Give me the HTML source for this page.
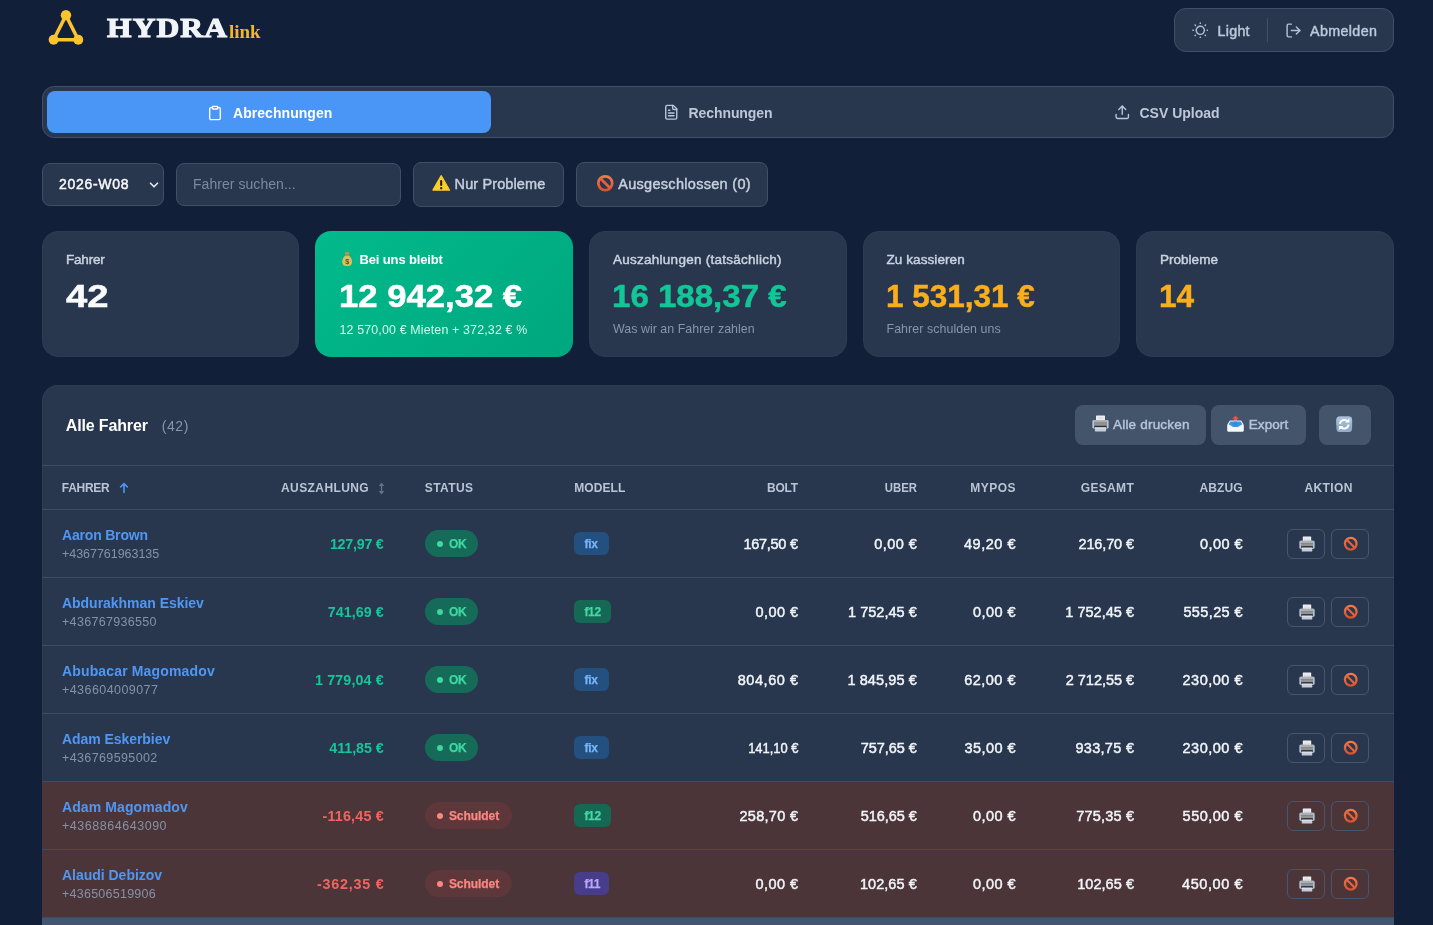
<!DOCTYPE html>
<html lang="de"><head><meta charset="utf-8"><title>HYDRAlink – Abrechnungen</title>
<style>
*{box-sizing:border-box}
html,body{margin:0;padding:0}
body{width:1433px;height:925px;overflow:hidden;position:relative;background:#121f39;
 font-family:"Liberation Sans","DejaVu Sans",sans-serif;color:#f1f5f9;-webkit-font-smoothing:antialiased}
.abs,.t,.ic{position:absolute}
.t{white-space:nowrap;line-height:1;display:block}
.box{position:absolute;background:#29374e;border:1px solid #3f4f69}
.b{font-weight:700}
.serif{font-family:"Liberation Serif","DejaVu Serif",serif}
.muted{color:#8795ab}
.lab{color:#c9d3e1}
.m5{-webkit-text-stroke:0.45px currentColor}
.xb{-webkit-text-stroke:0.5px currentColor}
.sb{font-weight:700;-webkit-text-stroke:0.25px currentColor}
</style></head><body>

<svg class="ic" style="left:44px;top:8px" width="44" height="42" viewBox="0 0 44 42"><path d="M21.95 7.4 L9.6 31.68 H34.27 Z" fill="none" stroke="#f9c42d" stroke-width="3.5" stroke-linejoin="round"/><circle cx="21.95" cy="7.16" r="5.2" fill="#f9c42d"/><circle cx="9.6" cy="31.68" r="4.95" fill="#f9c42d"/><circle cx="34.27" cy="31.68" r="4.95" fill="#f9c42d"/></svg>
<span id="hydra" class="t serif b" style="top:14px;left:106.5px;font-size:28px;color:#f1f5f9;-webkit-text-stroke:1.1px #f1f5f9;letter-spacing:1px;transform:scaleX(1.125);transform-origin:left center;">HYDRA</span>
<span id="link" class="t serif b" style="top:21.5px;left:229px;font-size:19px;color:#f4b62a;">link</span>
<div class="box" style="left:1174px;top:8px;width:220px;height:44px;border-radius:12px"></div>
<svg class="ic" style="left:1191.5px;top:21.7px" width="16.6" height="16.6" viewBox="0 0 24 24" fill="none" stroke="#b3c1d8" stroke-width="2.1" stroke-linecap="round" stroke-linejoin="round"><circle cx="12" cy="12" r="5.9"/><path d="M12 1.4v.6"/><path d="M12 22v.6"/><path d="m4.5 4.5 .4 .4"/><path d="m19.1 19.1 .4 .4"/><path d="M1.4 12h.6"/><path d="M22 12h.6"/><path d="m4.9 19.1-.4 .4"/><path d="m19.5 4.5-.4 .4"/></svg>
<span id="light" class="t m5" style="top:24px;left:1217.5px;letter-spacing:0.27px;font-size:14.3px;color:#bcc8dc;">Light</span>
<div class="abs" style="left:1267px;top:18px;width:1px;height:24px;background:#3f4e67"></div>
<svg class="ic" style="left:1284.5px;top:22px" width="17" height="17" viewBox="0 0 24 24" fill="none" stroke="#b3c1d8" stroke-width="2.0" stroke-linecap="round" stroke-linejoin="round"><path d="M9 21H5a2 2 0 0 1-2-2V5a2 2 0 0 1 2-2h4"/><polyline points="16 17 21 12 16 7"/><line x1="21" x2="9" y1="12" y2="12"/></svg>
<span id="abmelden" class="t m5" style="top:24px;left:1310px;letter-spacing:0.36px;font-size:14.3px;color:#bcc8dc;">Abmelden</span>
<div class="box" style="left:42px;top:86px;width:1352px;height:52px;border-radius:12px"></div>
<div class="abs" style="left:47px;top:91px;width:444px;height:42px;border-radius:8px;background:#4a96f7"></div>
<svg class="ic" style="left:207px;top:104.5px" width="16" height="16" viewBox="0 0 24 24" fill="none" stroke="#ffffff" stroke-width="2.1" stroke-linecap="round" stroke-linejoin="round"><rect width="8" height="4" x="8" y="2" rx="1" ry="1"/><path d="M16 4h2a2 2 0 0 1 2 2v14a2 2 0 0 1-2 2H6a2 2 0 0 1-2-2V6a2 2 0 0 1 2-2h2"/></svg>
<span id="tab1" class="t b" style="top:106px;left:233px;letter-spacing:0.05px;font-size:14px;color:#fff;">Abrechnungen</span>
<svg class="ic" style="left:663px;top:104px" width="16.5" height="16.5" viewBox="0 0 24 24" fill="none" stroke="#bcc8d8" stroke-width="2" stroke-linecap="round" stroke-linejoin="round"><path d="M15 2H6a2 2 0 0 0-2 2v16a2 2 0 0 0 2 2h12a2 2 0 0 0 2-2V7Z"/><path d="M14 2v4a2 2 0 0 0 2 2h4"/><path d="M10 9H8"/><path d="M16 13H8"/><path d="M16 17H8"/></svg>
<span id="tab2" class="t b" style="top:106px;left:688.5px;letter-spacing:-0.08px;font-size:14px;color:#bcc8d8;">Rechnungen</span>
<svg class="ic" style="left:1113.5px;top:104px" width="16.5" height="16.5" viewBox="0 0 24 24" fill="none" stroke="#bcc8d8" stroke-width="2" stroke-linecap="round" stroke-linejoin="round"><path d="M21 15v4a2 2 0 0 1-2 2H5a2 2 0 0 1-2-2v-4"/><polyline points="17 8 12 3 7 8"/><line x1="12" x2="12" y1="3" y2="15"/></svg>
<span id="tab3" class="t b" style="top:106px;left:1139.5px;font-size:14px;color:#bcc8d8;">CSV Upload</span>
<div class="box" style="left:42px;top:163.25px;width:122px;height:42.5px;border-radius:8px"></div>
<span id="week" class="t m5" style="top:177px;left:59px;letter-spacing:0.71px;font-size:14px;color:#f8fafc;">2026-W08</span>
<svg class="ic" style="left:148px;top:179px" width="12" height="12" viewBox="0 0 12 12" fill="none" stroke="#e2e8f0" stroke-width="1.6" stroke-linecap="round" stroke-linejoin="round"><path d="M2.5 4.2 L6 7.8 L9.5 4.2"/></svg>
<div class="box" style="left:176px;top:163.25px;width:225px;height:42.5px;border-radius:8px"></div>
<span id="search" class="t " style="top:177px;left:193px;letter-spacing:0.05px;font-size:14px;color:#7c899e;">Fahrer suchen...</span>
<div class="box" style="left:413px;top:162px;width:151px;height:45px;border-radius:8px"></div>
<svg class="ic" style="left:431.7px;top:173.8px" width="18.4" height="18.4" viewBox="0 0 32 32">
<path d="M16 3.2 L30.2 28 H1.8 Z" fill="#fbd02c" stroke="#fbd02c" stroke-width="2.6" stroke-linejoin="round"/>
<path d="M16 3.2 L30.2 28 H1.8 Z" fill="none" stroke="#e9b21f" stroke-width="0.8" stroke-linejoin="round" opacity=".55"/>
<rect x="14.2" y="10.5" width="3.6" height="10.5" rx="1.7" fill="#1f1f1f"/>
<circle cx="16" cy="24.8" r="2" fill="#1f1f1f"/>
</svg>
<span id="nurp" class="t m5" style="top:177px;left:454.6px;letter-spacing:0.11px;font-size:14.5px;color:#c5cfde;">Nur Probleme</span>
<div class="box" style="left:576px;top:162px;width:192px;height:45px;border-radius:8px"></div>
<svg class="ic" style="left:596px;top:173.8px" width="18.5" height="18.5" viewBox="0 0 32 32">
<defs><linearGradient id="gb" x1="0" y1="0" x2="0" y2="1"><stop offset="0" stop-color="#ee7a4d"/><stop offset="1" stop-color="#d9532f"/></linearGradient></defs>
<circle cx="16" cy="16" r="12" fill="none" stroke="url(#gb)" stroke-width="4.8"/>
<line x1="7.8" y1="7.8" x2="24.2" y2="24.2" stroke="#e2633b" stroke-width="4.8"/>
</svg>
<span id="ausg" class="t m5" style="top:177px;left:618.2px;letter-spacing:0.3px;font-size:14.5px;color:#c5cfde;">Ausgeschlossen (0)</span>
<div class="abs" style="left:42px;top:231px;width:257px;height:125.5px;border-radius:16px;background:#29374e;border:1px solid #2d3b53"></div>
<div class="abs" style="left:315px;top:231px;width:258px;height:125.5px;border-radius:16px;background:linear-gradient(135deg,#02ba8c 0%,#00a77f 100%)"></div>
<div class="abs" style="left:589px;top:231px;width:257.5px;height:125.5px;border-radius:16px;background:#29374e;border:1px solid #2d3b53"></div>
<div class="abs" style="left:862.5px;top:231px;width:257.5px;height:125.5px;border-radius:16px;background:#29374e;border:1px solid #2d3b53"></div>
<div class="abs" style="left:1136px;top:231px;width:258px;height:125.5px;border-radius:16px;background:#29374e;border:1px solid #2d3b53"></div>
<span id="c1l" class="t m5 lab" style="top:253px;left:66px;letter-spacing:-0.19px;font-size:13.5px;">Fahrer</span>
<span id="c1v" class="t b xb" style="top:280.5px;transform:scaleX(1.2148);transform-origin:left center;left:65.5px;font-size:31.5px;color:#f8fafc;">42</span>
<svg class="ic" style="left:341.6px;top:252px" width="10.29" height="14.4" viewBox="0 0 20 28">
<path d="M5.2 0.6 H14.8 L12.9 5.6 H7.1 Z" fill="#c9964a"/>
<path d="M7 6.2 H13 C17.6 9.6 19.8 14.6 19.6 19.4 C19.4 25 15.8 27.6 10 27.6 C4.2 27.6 0.6 25 0.4 19.4 C0.2 14.6 2.4 9.6 7 6.2 Z" fill="#d9bf5e"/>
<rect x="6.4" y="5" width="7.2" height="2" rx="1" fill="#a87a35"/>
<text x="10" y="23.2" font-family="Liberation Sans, sans-serif" font-weight="700" font-size="14" text-anchor="middle" fill="#5d5327">$</text>
</svg>
<span id="c2l" class="t b" style="top:253px;left:359.5px;letter-spacing:-0.14px;font-size:13px;color:#fff;">Bei uns bleibt</span>
<span id="c2v" class="t b xb" style="top:280.5px;transform:scaleX(1.1003);transform-origin:left center;left:338.5px;font-size:31.5px;color:#fff;">12 942,32 €</span>
<span id="c2s" class="t " style="top:323.5px;left:339.5px;letter-spacing:0.16px;font-size:12.4px;color:#d2f9ea;">12 570,00 € Mieten + 372,32 € %</span>
<span id="c3l" class="t m5 lab" style="top:253px;left:613px;letter-spacing:0.26px;font-size:13.5px;">Auszahlungen (tatsächlich)</span>
<span id="c3v" class="t b xb" style="top:280.5px;transform:scaleX(1.0495);transform-origin:left center;left:612px;font-size:31.5px;color:#13c698;">16 188,37 €</span>
<span id="c3s" class="t muted" style="top:323px;left:613px;letter-spacing:0.04px;font-size:12.4px;">Was wir an Fahrer zahlen</span>
<span id="c4l" class="t m5 lab" style="top:253px;left:886.5px;letter-spacing:0.08px;font-size:13.5px;">Zu kassieren</span>
<span id="c4v" class="t b xb" style="top:280.5px;transform:scaleX(0.9994);transform-origin:left center;left:885.5px;font-size:31.5px;color:#f9ae1d;">1 531,31 €</span>
<span id="c4s" class="t muted" style="top:323px;left:886.5px;letter-spacing:0.07px;font-size:12.4px;">Fahrer schulden uns</span>
<span id="c5l" class="t m5 lab" style="top:253px;left:1160px;letter-spacing:0.02px;font-size:13.5px;">Probleme</span>
<span id="c5v" class="t b xb" style="top:280.5px;transform:scaleX(1.0014);transform-origin:left center;left:1159px;font-size:31.5px;color:#f9ae1d;">14</span>
<div class="abs" style="left:42px;top:385px;width:1352px;height:560px;border-radius:16px 16px 0 0;background:#29374e;overflow:hidden;box-shadow:inset 0 0 0 1px #2d3b53">
<span id="alle" class="t b" style="top:32.5px;left:23.75px;letter-spacing:-0.14px;font-size:16px;color:#fff;">Alle Fahrer</span>
<span id="cnt" class="t " style="top:33.5px;left:119.75px;letter-spacing:0.56px;font-size:14px;color:#8795ab;">(42)</span>
<div class="abs" style="left:1033px;top:20px;width:131px;height:40px;border-radius:8px;background:#43546b"></div>
<svg class="ic" style="left:1049.5px;top:30.19999999999999px" width="17" height="17" viewBox="0 0 32 32">
<rect x="7.6" y="0.8" width="16.8" height="11.5" rx="1" fill="#f1f2f6"/>
<rect x="10" y="3.4" width="12" height="1.2" fill="#cfd3db"/><rect x="10" y="6.2" width="12" height="1.2" fill="#cfd3db"/>
<rect x="0.8" y="9.6" width="30.4" height="16" rx="2.6" fill="#bccde6"/>
<rect x="3.6" y="9.6" width="24.8" height="16" fill="#929397"/>
<rect x="3.6" y="9.6" width="24.8" height="4.6" fill="#aeafb3"/>
<rect x="3.6" y="14.2" width="24.8" height="1.2" fill="#7d7e82"/>
<rect x="4.4" y="20.2" width="23.2" height="3.6" fill="#2f3034"/>
<rect x="5.4" y="23.4" width="21.2" height="7.6" rx="0.8" fill="#c3ccda"/>
<rect x="5.4" y="23.4" width="21.2" height="2" fill="#e2e7ef"/>
</svg>
<span id="druck" class="t m5" style="top:32.5px;left:1071px;letter-spacing:0.2px;font-size:13.5px;color:#b6c3d8;">Alle drucken</span>
<div class="abs" style="left:1169.25px;top:20px;width:95px;height:40px;border-radius:8px;background:#43546b"></div>
<svg class="ic" style="left:1185.2px;top:29.80000000000001px" width="17" height="17" viewBox="0 0 32 32">
<path d="M16 0.8 L22.4 7.4 H18.8 V12.5 H13.2 V7.4 H9.6 Z" fill="#e5524a"/>
<path d="M5.4 10.5 H26.6 L31.2 17.5 V29.4 a1.6 1.6 0 0 1 -1.6 1.6 H2.4 a1.6 1.6 0 0 1 -1.6 -1.6 V17.5 Z" fill="#eef2f7"/>
<path d="M6.6 12.4 H25.4 L28.8 17.6 L20.4 22.6 H11.6 L3.2 17.6 Z" fill="#3b96e6"/>
<path d="M13.2 12.4 H18.8 V15 H22 L16 21 L10 15 H13.2 Z" fill="#2a7fd0" opacity=".55"/>
<path d="M0.8 19 L11 24.6 H21 L31.2 19 V29.4 a1.6 1.6 0 0 1 -1.6 1.6 H2.4 a1.6 1.6 0 0 1 -1.6 -1.6 Z" fill="#f6f8fb"/>
</svg>
<span id="export" class="t m5" style="top:32.5px;left:1206.75px;letter-spacing:0.08px;font-size:13.5px;color:#b6c3d8;">Export</span>
<div class="abs" style="left:1277.25px;top:20px;width:51.25px;height:40px;border-radius:8px;background:#43546b"></div>
<svg class="ic" style="left:1294px;top:30.5px" width="16.5" height="16.5" viewBox="0 0 32 32">
<rect x="0.8" y="0.8" width="30.4" height="30.4" rx="6.5" fill="#93aeca"/>
<rect x="0.8" y="0.8" width="30.4" height="16" rx="6.5" fill="#a9c0d8"/>
<rect x="0.8" y="10" width="30.4" height="8" fill="#9eb7d1"/>
<path d="M7.6 15.4 a8.6 8.6 0 0 1 14.6 -5.2" fill="none" stroke="#fff" stroke-width="3.8"/>
<path d="M26 4.6 v8.2 h-8.2 Z" fill="#fff"/>
<path d="M24.4 16.6 a8.6 8.6 0 0 1 -14.6 5.2" fill="none" stroke="#fff" stroke-width="3.8"/>
<path d="M6 27.4 v-8.2 h8.2 Z" fill="#fff"/>
</svg>
<div class="abs" style="left:0;top:80px;width:1352px;height:1px;background:#3e4d66"></div>
<div class="abs" style="left:0;top:124px;width:1352px;height:1px;background:#3e4d66"></div>
<span id="h_fahrer" class="t b" style="top:97px;left:19.75px;letter-spacing:-0.29px;font-size:12px;color:#b9c4d6;">FAHRER</span>
<svg class="ic" style="left:77px;top:97px" width="10" height="12" viewBox="0 0 10 12" fill="none" stroke="#4a96f7" stroke-width="1.6" stroke-linecap="round" stroke-linejoin="round"><path d="M5 10.5 V1.8 M1.6 5 L5 1.6 L8.4 5"/></svg>
<span id="h_ausz" class="t b" style="top:97px;left:239px;letter-spacing:0.41px;font-size:12px;color:#b9c4d6;">AUSZAHLUNG</span>
<svg class="ic" style="left:336px;top:97px" width="7" height="13" viewBox="0 0 7 13" fill="#62718a"><path d="M3.5 0.5 L6.3 4 H4.2 V9 H6.3 L3.5 12.5 L0.7 9 H2.8 V4 H0.7 Z"/></svg>
<span id="h_status" class="t b" style="top:97px;left:382.75px;letter-spacing:0.4px;font-size:12px;color:#b9c4d6;">STATUS</span>
<span id="h_modell" class="t b" style="top:97px;left:532.25px;letter-spacing:0.08px;font-size:12px;color:#b9c4d6;">MODELL</span>
<span id="h_bolt" class="t b" style="top:97px;right:596px;margin-right:0.25px;letter-spacing:-0.25px;font-size:12px;color:#b9c4d6;">BOLT</span>
<span id="h_uber" class="t b" style="top:97px;transform:scaleX(0.945);transform-origin:right center;right:477.25px;font-size:12px;color:#b9c4d6;">UBER</span>
<span id="h_mypos" class="t b" style="top:97px;right:378.5px;margin-right:-0.47px;letter-spacing:0.47px;font-size:12px;color:#b9c4d6;">MYPOS</span>
<span id="h_gesamt" class="t b" style="top:97px;right:260.25px;margin-right:-0.32px;letter-spacing:0.32px;font-size:12px;color:#b9c4d6;">GESAMT</span>
<span id="h_abzug" class="t b" style="top:97px;right:151.5px;margin-right:-0.11px;letter-spacing:0.11px;font-size:12px;color:#b9c4d6;">ABZUG</span>
<span id="h_aktion" class="t b" style="top:97px;right:41.5px;margin-right:-0.41px;letter-spacing:0.41px;font-size:12px;color:#b9c4d6;">AKTION</span>
<div class="abs" style="left:0;top:125px;width:1352px;height:68px;background:transparent;border-bottom:1px solid #3e4d66">
<span id="n0" class="t b" style="top:18px;left:20px;letter-spacing:-0.19px;font-size:14px;color:#4f97f3;">Aaron Brown</span>
<span id="p0" class="t " style="top:37.7px;left:20px;letter-spacing:-0.04px;font-size:12.5px;color:#8591a6;">+4367761963135</span>
<span id="a0" class="t b" style="top:27px;right:1010.25px;margin-right:0.26px;letter-spacing:-0.26px;font-size:14.3px;color:#18c499;">127,97 €</span>
<div class="abs" style="left:383px;top:20px;width:53px;height:27px;border-radius:14px;background:#166b58"></div>
<div class="abs" style="left:395px;top:30.6px;width:6px;height:6px;border-radius:3px;background:#3dd8a2"></div>
<span id="s0" class="t sb" style="top:27.7px;left:406.9px;letter-spacing:-0.3px;font-size:12px;color:#3dd8a2;">OK</span>
<div class="abs" style="left:532.25px;top:22px;width:35px;height:23px;border-radius:6px;background:#24507f"></div>
<span id="m0" class="t sb" style="top:27.7px;left:542.4px;letter-spacing:-0.26px;font-size:12px;color:#78b4fa;">fix</span>
<span id="bo0" class="t m5" style="top:27px;right:596px;margin-right:0.27px;letter-spacing:-0.27px;font-size:14.5px;color:#f1f5f9;">167,50 €</span>
<span id="ub0" class="t m5" style="top:27px;right:477.25px;margin-right:-0.44px;letter-spacing:0.44px;font-size:14.5px;color:#f1f5f9;">0,00 €</span>
<span id="my0" class="t m5" style="top:27px;right:378.5px;margin-right:-0.52px;letter-spacing:0.52px;font-size:14.5px;color:#f1f5f9;">49,20 €</span>
<span id="ge0" class="t m5" style="top:27px;right:260px;margin-right:0.13px;letter-spacing:-0.13px;font-size:14.5px;color:#f1f5f9;">216,70 €</span>
<span id="ab0" class="t m5" style="top:27px;right:151.5px;margin-right:-0.44px;letter-spacing:0.44px;font-size:14.5px;color:#f1f5f9;">0,00 €</span>
<div class="abs" style="left:1245px;top:18.75px;width:38px;height:30px;border-radius:6px;border:1px solid #46566f"></div>
<svg class="ic" style="left:1256.5px;top:25.7px" width="16" height="16" viewBox="0 0 32 32">
<rect x="7.6" y="0.8" width="16.8" height="11.5" rx="1" fill="#f1f2f6"/>
<rect x="10" y="3.4" width="12" height="1.2" fill="#cfd3db"/><rect x="10" y="6.2" width="12" height="1.2" fill="#cfd3db"/>
<rect x="0.8" y="9.6" width="30.4" height="16" rx="2.6" fill="#bccde6"/>
<rect x="3.6" y="9.6" width="24.8" height="16" fill="#929397"/>
<rect x="3.6" y="9.6" width="24.8" height="4.6" fill="#aeafb3"/>
<rect x="3.6" y="14.2" width="24.8" height="1.2" fill="#7d7e82"/>
<rect x="4.4" y="20.2" width="23.2" height="3.6" fill="#2f3034"/>
<rect x="5.4" y="23.4" width="21.2" height="7.6" rx="0.8" fill="#c3ccda"/>
<rect x="5.4" y="23.4" width="21.2" height="2" fill="#e2e7ef"/>
</svg>
<div class="abs" style="left:1289.25px;top:18.75px;width:38px;height:30px;border-radius:6px;border:1px solid #46566f"></div>
<svg class="ic" style="left:1300.7px;top:25.7px" width="15.5" height="15.5" viewBox="0 0 32 32">
<defs><linearGradient id="gb" x1="0" y1="0" x2="0" y2="1"><stop offset="0" stop-color="#ee7a4d"/><stop offset="1" stop-color="#d9532f"/></linearGradient></defs>
<circle cx="16" cy="16" r="12" fill="none" stroke="url(#gb)" stroke-width="4.8"/>
<line x1="7.8" y1="7.8" x2="24.2" y2="24.2" stroke="#e2633b" stroke-width="4.8"/>
</svg>
</div>
<div class="abs" style="left:0;top:193px;width:1352px;height:68px;background:transparent;border-bottom:1px solid #3e4d66">
<span id="n1" class="t b" style="top:18px;left:20px;letter-spacing:-0.03px;font-size:14px;color:#4f97f3;">Abdurakhman Eskiev</span>
<span id="p1" class="t " style="top:37.7px;left:20px;letter-spacing:0.32px;font-size:12.5px;color:#8591a6;">+436767936550</span>
<span id="a1" class="t b" style="top:27px;right:1010.25px;margin-right:-0.03px;letter-spacing:0.03px;font-size:14.3px;color:#18c499;">741,69 €</span>
<div class="abs" style="left:383px;top:20px;width:53px;height:27px;border-radius:14px;background:#166b58"></div>
<div class="abs" style="left:395px;top:30.6px;width:6px;height:6px;border-radius:3px;background:#3dd8a2"></div>
<span id="s1" class="t sb" style="top:27.7px;left:406.9px;letter-spacing:-0.3px;font-size:12px;color:#3dd8a2;">OK</span>
<div class="abs" style="left:532.25px;top:22px;width:37px;height:23px;border-radius:6px;background:#156954"></div>
<span id="m1" class="t sb" style="top:27.7px;left:542.4px;letter-spacing:-0.3px;font-size:12px;color:#45d8a5;">f12</span>
<span id="bo1" class="t m5" style="top:27px;right:596px;margin-right:-0.44px;letter-spacing:0.44px;font-size:14.5px;color:#f1f5f9;">0,00 €</span>
<span id="ub1" class="t m5" style="top:27px;right:477.25px;margin-right:-0.02px;letter-spacing:0.02px;font-size:14.5px;color:#f1f5f9;">1 752,45 €</span>
<span id="my1" class="t m5" style="top:27px;right:378.5px;margin-right:-0.44px;letter-spacing:0.44px;font-size:14.5px;color:#f1f5f9;">0,00 €</span>
<span id="ge1" class="t m5" style="top:27px;right:260px;margin-right:-0.02px;letter-spacing:0.02px;font-size:14.5px;color:#f1f5f9;">1 752,45 €</span>
<span id="ab1" class="t m5" style="top:27px;right:151.5px;margin-right:-0.38px;letter-spacing:0.38px;font-size:14.5px;color:#f1f5f9;">555,25 €</span>
<div class="abs" style="left:1245px;top:18.75px;width:38px;height:30px;border-radius:6px;border:1px solid #46566f"></div>
<svg class="ic" style="left:1256.5px;top:25.7px" width="16" height="16" viewBox="0 0 32 32">
<rect x="7.6" y="0.8" width="16.8" height="11.5" rx="1" fill="#f1f2f6"/>
<rect x="10" y="3.4" width="12" height="1.2" fill="#cfd3db"/><rect x="10" y="6.2" width="12" height="1.2" fill="#cfd3db"/>
<rect x="0.8" y="9.6" width="30.4" height="16" rx="2.6" fill="#bccde6"/>
<rect x="3.6" y="9.6" width="24.8" height="16" fill="#929397"/>
<rect x="3.6" y="9.6" width="24.8" height="4.6" fill="#aeafb3"/>
<rect x="3.6" y="14.2" width="24.8" height="1.2" fill="#7d7e82"/>
<rect x="4.4" y="20.2" width="23.2" height="3.6" fill="#2f3034"/>
<rect x="5.4" y="23.4" width="21.2" height="7.6" rx="0.8" fill="#c3ccda"/>
<rect x="5.4" y="23.4" width="21.2" height="2" fill="#e2e7ef"/>
</svg>
<div class="abs" style="left:1289.25px;top:18.75px;width:38px;height:30px;border-radius:6px;border:1px solid #46566f"></div>
<svg class="ic" style="left:1300.7px;top:25.7px" width="15.5" height="15.5" viewBox="0 0 32 32">
<defs><linearGradient id="gb" x1="0" y1="0" x2="0" y2="1"><stop offset="0" stop-color="#ee7a4d"/><stop offset="1" stop-color="#d9532f"/></linearGradient></defs>
<circle cx="16" cy="16" r="12" fill="none" stroke="url(#gb)" stroke-width="4.8"/>
<line x1="7.8" y1="7.8" x2="24.2" y2="24.2" stroke="#e2633b" stroke-width="4.8"/>
</svg>
</div>
<div class="abs" style="left:0;top:261px;width:1352px;height:68px;background:transparent;border-bottom:1px solid #3e4d66">
<span id="n2" class="t b" style="top:18px;left:20px;letter-spacing:0.15px;font-size:14px;color:#4f97f3;">Abubacar Magomadov</span>
<span id="p2" class="t " style="top:37.7px;left:20px;letter-spacing:0.43px;font-size:12.5px;color:#8591a6;">+436604009077</span>
<span id="a2" class="t b" style="top:27px;right:1010.25px;margin-right:-0.13px;letter-spacing:0.13px;font-size:14.3px;color:#18c499;">1 779,04 €</span>
<div class="abs" style="left:383px;top:20px;width:53px;height:27px;border-radius:14px;background:#166b58"></div>
<div class="abs" style="left:395px;top:30.6px;width:6px;height:6px;border-radius:3px;background:#3dd8a2"></div>
<span id="s2" class="t sb" style="top:27.7px;left:406.9px;letter-spacing:-0.3px;font-size:12px;color:#3dd8a2;">OK</span>
<div class="abs" style="left:532.25px;top:22px;width:35px;height:23px;border-radius:6px;background:#24507f"></div>
<span id="m2" class="t sb" style="top:27.7px;left:542.4px;letter-spacing:-0.26px;font-size:12px;color:#78b4fa;">fix</span>
<span id="bo2" class="t m5" style="top:27px;right:596px;margin-right:-0.54px;letter-spacing:0.54px;font-size:14.5px;color:#f1f5f9;">804,60 €</span>
<span id="ub2" class="t m5" style="top:27px;right:477.25px;margin-right:-0.09px;letter-spacing:0.09px;font-size:14.5px;color:#f1f5f9;">1 845,95 €</span>
<span id="my2" class="t m5" style="top:27px;right:378.5px;margin-right:-0.49px;letter-spacing:0.49px;font-size:14.5px;color:#f1f5f9;">62,00 €</span>
<span id="ge2" class="t m5" style="top:27px;right:260px;margin-right:0.04px;letter-spacing:-0.04px;font-size:14.5px;color:#f1f5f9;">2 712,55 €</span>
<span id="ab2" class="t m5" style="top:27px;right:151.5px;margin-right:-0.5px;letter-spacing:0.5px;font-size:14.5px;color:#f1f5f9;">230,00 €</span>
<div class="abs" style="left:1245px;top:18.75px;width:38px;height:30px;border-radius:6px;border:1px solid #46566f"></div>
<svg class="ic" style="left:1256.5px;top:25.7px" width="16" height="16" viewBox="0 0 32 32">
<rect x="7.6" y="0.8" width="16.8" height="11.5" rx="1" fill="#f1f2f6"/>
<rect x="10" y="3.4" width="12" height="1.2" fill="#cfd3db"/><rect x="10" y="6.2" width="12" height="1.2" fill="#cfd3db"/>
<rect x="0.8" y="9.6" width="30.4" height="16" rx="2.6" fill="#bccde6"/>
<rect x="3.6" y="9.6" width="24.8" height="16" fill="#929397"/>
<rect x="3.6" y="9.6" width="24.8" height="4.6" fill="#aeafb3"/>
<rect x="3.6" y="14.2" width="24.8" height="1.2" fill="#7d7e82"/>
<rect x="4.4" y="20.2" width="23.2" height="3.6" fill="#2f3034"/>
<rect x="5.4" y="23.4" width="21.2" height="7.6" rx="0.8" fill="#c3ccda"/>
<rect x="5.4" y="23.4" width="21.2" height="2" fill="#e2e7ef"/>
</svg>
<div class="abs" style="left:1289.25px;top:18.75px;width:38px;height:30px;border-radius:6px;border:1px solid #46566f"></div>
<svg class="ic" style="left:1300.7px;top:25.7px" width="15.5" height="15.5" viewBox="0 0 32 32">
<defs><linearGradient id="gb" x1="0" y1="0" x2="0" y2="1"><stop offset="0" stop-color="#ee7a4d"/><stop offset="1" stop-color="#d9532f"/></linearGradient></defs>
<circle cx="16" cy="16" r="12" fill="none" stroke="url(#gb)" stroke-width="4.8"/>
<line x1="7.8" y1="7.8" x2="24.2" y2="24.2" stroke="#e2633b" stroke-width="4.8"/>
</svg>
</div>
<div class="abs" style="left:0;top:329px;width:1352px;height:68px;background:transparent;border-bottom:1px solid #3e4d66">
<span id="n3" class="t b" style="top:18px;left:20px;letter-spacing:-0.06px;font-size:14px;color:#4f97f3;">Adam Eskerbiev</span>
<span id="p3" class="t " style="top:37.7px;left:20px;letter-spacing:0.38px;font-size:12.5px;color:#8591a6;">+436769595002</span>
<span id="a3" class="t b" style="top:27px;right:1010.25px;margin-right:0.06px;letter-spacing:-0.06px;font-size:14.3px;color:#18c499;">411,85 €</span>
<div class="abs" style="left:383px;top:20px;width:53px;height:27px;border-radius:14px;background:#166b58"></div>
<div class="abs" style="left:395px;top:30.6px;width:6px;height:6px;border-radius:3px;background:#3dd8a2"></div>
<span id="s3" class="t sb" style="top:27.7px;left:406.9px;letter-spacing:-0.3px;font-size:12px;color:#3dd8a2;">OK</span>
<div class="abs" style="left:532.25px;top:22px;width:35px;height:23px;border-radius:6px;background:#24507f"></div>
<span id="m3" class="t sb" style="top:27.7px;left:542.4px;letter-spacing:-0.26px;font-size:12px;color:#78b4fa;">fix</span>
<span id="bo3" class="t m5" style="top:27px;transform:scaleX(0.8905);transform-origin:right center;right:596px;font-size:14.5px;color:#f1f5f9;">141,10 €</span>
<span id="ub3" class="t m5" style="top:27px;right:477.25px;margin-right:0.06px;letter-spacing:-0.06px;font-size:14.5px;color:#f1f5f9;">757,65 €</span>
<span id="my3" class="t m5" style="top:27px;right:378.5px;margin-right:-0.43px;letter-spacing:0.43px;font-size:14.5px;color:#f1f5f9;">35,00 €</span>
<span id="ge3" class="t m5" style="top:27px;right:260px;margin-right:-0.3px;letter-spacing:0.3px;font-size:14.5px;color:#f1f5f9;">933,75 €</span>
<span id="ab3" class="t m5" style="top:27px;right:151.5px;margin-right:-0.5px;letter-spacing:0.5px;font-size:14.5px;color:#f1f5f9;">230,00 €</span>
<div class="abs" style="left:1245px;top:18.75px;width:38px;height:30px;border-radius:6px;border:1px solid #46566f"></div>
<svg class="ic" style="left:1256.5px;top:25.7px" width="16" height="16" viewBox="0 0 32 32">
<rect x="7.6" y="0.8" width="16.8" height="11.5" rx="1" fill="#f1f2f6"/>
<rect x="10" y="3.4" width="12" height="1.2" fill="#cfd3db"/><rect x="10" y="6.2" width="12" height="1.2" fill="#cfd3db"/>
<rect x="0.8" y="9.6" width="30.4" height="16" rx="2.6" fill="#bccde6"/>
<rect x="3.6" y="9.6" width="24.8" height="16" fill="#929397"/>
<rect x="3.6" y="9.6" width="24.8" height="4.6" fill="#aeafb3"/>
<rect x="3.6" y="14.2" width="24.8" height="1.2" fill="#7d7e82"/>
<rect x="4.4" y="20.2" width="23.2" height="3.6" fill="#2f3034"/>
<rect x="5.4" y="23.4" width="21.2" height="7.6" rx="0.8" fill="#c3ccda"/>
<rect x="5.4" y="23.4" width="21.2" height="2" fill="#e2e7ef"/>
</svg>
<div class="abs" style="left:1289.25px;top:18.75px;width:38px;height:30px;border-radius:6px;border:1px solid #46566f"></div>
<svg class="ic" style="left:1300.7px;top:25.7px" width="15.5" height="15.5" viewBox="0 0 32 32">
<defs><linearGradient id="gb" x1="0" y1="0" x2="0" y2="1"><stop offset="0" stop-color="#ee7a4d"/><stop offset="1" stop-color="#d9532f"/></linearGradient></defs>
<circle cx="16" cy="16" r="12" fill="none" stroke="url(#gb)" stroke-width="4.8"/>
<line x1="7.8" y1="7.8" x2="24.2" y2="24.2" stroke="#e2633b" stroke-width="4.8"/>
</svg>
</div>
<div class="abs" style="left:0;top:397px;width:1352px;height:68px;background:#4b3538;border-bottom:1px solid #3e4d66">
<span id="n4" class="t b" style="top:18px;left:20px;letter-spacing:0.1px;font-size:14px;color:#4f97f3;">Adam Magomadov</span>
<span id="p4" class="t " style="top:37.7px;left:20px;letter-spacing:0.53px;font-size:12.5px;color:#8591a6;">+4368864643090</span>
<span id="a4" class="t b" style="top:27px;right:1010.25px;margin-right:-0.21px;letter-spacing:0.21px;font-size:14.3px;color:#f0655f;">-116,45 €</span>
<div class="abs" style="left:383px;top:20px;width:86.75px;height:27px;border-radius:14px;background:#5e373b"></div>
<div class="abs" style="left:395px;top:30.6px;width:6px;height:6px;border-radius:3px;background:#fb8781"></div>
<span id="s4" class="t sb" style="top:27.7px;left:406.9px;letter-spacing:-0.06px;font-size:12px;color:#fb8781;">Schuldet</span>
<div class="abs" style="left:532.25px;top:22px;width:37px;height:23px;border-radius:6px;background:#156954"></div>
<span id="m4" class="t sb" style="top:27.7px;left:542.4px;letter-spacing:-0.3px;font-size:12px;color:#45d8a5;">f12</span>
<span id="bo4" class="t m5" style="top:27px;right:596px;margin-right:-0.3px;letter-spacing:0.3px;font-size:14.5px;color:#f1f5f9;">258,70 €</span>
<span id="ub4" class="t m5" style="top:27px;right:477.25px;margin-right:0.05px;letter-spacing:-0.05px;font-size:14.5px;color:#f1f5f9;">516,65 €</span>
<span id="my4" class="t m5" style="top:27px;right:378.5px;margin-right:-0.44px;letter-spacing:0.44px;font-size:14.5px;color:#f1f5f9;">0,00 €</span>
<span id="ge4" class="t m5" style="top:27px;right:260px;margin-right:-0.18px;letter-spacing:0.18px;font-size:14.5px;color:#f1f5f9;">775,35 €</span>
<span id="ab4" class="t m5" style="top:27px;right:151.5px;margin-right:-0.49px;letter-spacing:0.49px;font-size:14.5px;color:#f1f5f9;">550,00 €</span>
<div class="abs" style="left:1245px;top:18.75px;width:38px;height:30px;border-radius:6px;border:1px solid #46566f"></div>
<svg class="ic" style="left:1256.5px;top:25.7px" width="16" height="16" viewBox="0 0 32 32">
<rect x="7.6" y="0.8" width="16.8" height="11.5" rx="1" fill="#f1f2f6"/>
<rect x="10" y="3.4" width="12" height="1.2" fill="#cfd3db"/><rect x="10" y="6.2" width="12" height="1.2" fill="#cfd3db"/>
<rect x="0.8" y="9.6" width="30.4" height="16" rx="2.6" fill="#bccde6"/>
<rect x="3.6" y="9.6" width="24.8" height="16" fill="#929397"/>
<rect x="3.6" y="9.6" width="24.8" height="4.6" fill="#aeafb3"/>
<rect x="3.6" y="14.2" width="24.8" height="1.2" fill="#7d7e82"/>
<rect x="4.4" y="20.2" width="23.2" height="3.6" fill="#2f3034"/>
<rect x="5.4" y="23.4" width="21.2" height="7.6" rx="0.8" fill="#c3ccda"/>
<rect x="5.4" y="23.4" width="21.2" height="2" fill="#e2e7ef"/>
</svg>
<div class="abs" style="left:1289.25px;top:18.75px;width:38px;height:30px;border-radius:6px;border:1px solid #46566f"></div>
<svg class="ic" style="left:1300.7px;top:25.7px" width="15.5" height="15.5" viewBox="0 0 32 32">
<defs><linearGradient id="gb" x1="0" y1="0" x2="0" y2="1"><stop offset="0" stop-color="#ee7a4d"/><stop offset="1" stop-color="#d9532f"/></linearGradient></defs>
<circle cx="16" cy="16" r="12" fill="none" stroke="url(#gb)" stroke-width="4.8"/>
<line x1="7.8" y1="7.8" x2="24.2" y2="24.2" stroke="#e2633b" stroke-width="4.8"/>
</svg>
</div>
<div class="abs" style="left:0;top:465px;width:1352px;height:68px;background:#4b3538;border-bottom:1px solid #3e4d66">
<span id="n5" class="t b" style="top:18px;left:20px;letter-spacing:-0.02px;font-size:14px;color:#4f97f3;">Alaudi Debizov</span>
<span id="p5" class="t " style="top:37.7px;left:20px;letter-spacing:0.25px;font-size:12.5px;color:#8591a6;">+436506519906</span>
<span id="a5" class="t b" style="top:27px;right:1010.25px;margin-right:-0.78px;letter-spacing:0.78px;font-size:14.3px;color:#f0655f;">-362,35 €</span>
<div class="abs" style="left:383px;top:20px;width:86.75px;height:27px;border-radius:14px;background:#5e373b"></div>
<div class="abs" style="left:395px;top:30.6px;width:6px;height:6px;border-radius:3px;background:#fb8781"></div>
<span id="s5" class="t sb" style="top:27.7px;left:406.9px;letter-spacing:-0.06px;font-size:12px;color:#fb8781;">Schuldet</span>
<div class="abs" style="left:532.25px;top:22px;width:35px;height:23px;border-radius:6px;background:#473d8b"></div>
<span id="m5" class="t sb" style="top:27.7px;left:542.4px;letter-spacing:-0.3px;font-size:12px;color:#b9a6fa;">f11</span>
<span id="bo5" class="t m5" style="top:27px;right:596px;margin-right:-0.44px;letter-spacing:0.44px;font-size:14.5px;color:#f1f5f9;">0,00 €</span>
<span id="ub5" class="t m5" style="top:27px;right:477.25px;margin-right:-0.05px;letter-spacing:0.05px;font-size:14.5px;color:#f1f5f9;">102,65 €</span>
<span id="my5" class="t m5" style="top:27px;right:378.5px;margin-right:-0.44px;letter-spacing:0.44px;font-size:14.5px;color:#f1f5f9;">0,00 €</span>
<span id="ge5" class="t m5" style="top:27px;right:260px;margin-right:-0.05px;letter-spacing:0.05px;font-size:14.5px;color:#f1f5f9;">102,65 €</span>
<span id="ab5" class="t m5" style="top:27px;right:151.5px;margin-right:-0.56px;letter-spacing:0.56px;font-size:14.5px;color:#f1f5f9;">450,00 €</span>
<div class="abs" style="left:1245px;top:18.75px;width:38px;height:30px;border-radius:6px;border:1px solid #46566f"></div>
<svg class="ic" style="left:1256.5px;top:25.7px" width="16" height="16" viewBox="0 0 32 32">
<rect x="7.6" y="0.8" width="16.8" height="11.5" rx="1" fill="#f1f2f6"/>
<rect x="10" y="3.4" width="12" height="1.2" fill="#cfd3db"/><rect x="10" y="6.2" width="12" height="1.2" fill="#cfd3db"/>
<rect x="0.8" y="9.6" width="30.4" height="16" rx="2.6" fill="#bccde6"/>
<rect x="3.6" y="9.6" width="24.8" height="16" fill="#929397"/>
<rect x="3.6" y="9.6" width="24.8" height="4.6" fill="#aeafb3"/>
<rect x="3.6" y="14.2" width="24.8" height="1.2" fill="#7d7e82"/>
<rect x="4.4" y="20.2" width="23.2" height="3.6" fill="#2f3034"/>
<rect x="5.4" y="23.4" width="21.2" height="7.6" rx="0.8" fill="#c3ccda"/>
<rect x="5.4" y="23.4" width="21.2" height="2" fill="#e2e7ef"/>
</svg>
<div class="abs" style="left:1289.25px;top:18.75px;width:38px;height:30px;border-radius:6px;border:1px solid #46566f"></div>
<svg class="ic" style="left:1300.7px;top:25.7px" width="15.5" height="15.5" viewBox="0 0 32 32">
<defs><linearGradient id="gb" x1="0" y1="0" x2="0" y2="1"><stop offset="0" stop-color="#ee7a4d"/><stop offset="1" stop-color="#d9532f"/></linearGradient></defs>
<circle cx="16" cy="16" r="12" fill="none" stroke="url(#gb)" stroke-width="4.8"/>
<line x1="7.8" y1="7.8" x2="24.2" y2="24.2" stroke="#e2633b" stroke-width="4.8"/>
</svg>
</div>
<div class="abs" style="left:0;top:532.5px;width:1352px;height:30px;background:#42566f"></div>
</div>
</body></html>
